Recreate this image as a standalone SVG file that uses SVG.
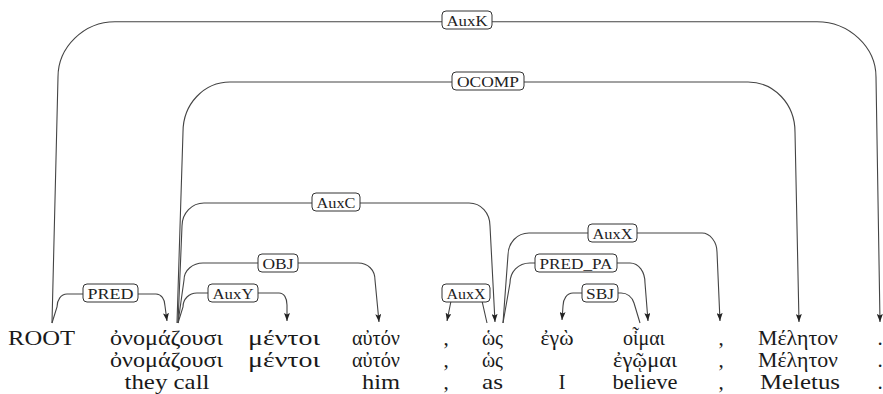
<svg xmlns="http://www.w3.org/2000/svg" width="883" height="394" viewBox="0 0 883 394">
  <defs>
    <marker id="head" viewBox="0 0 8 6" refX="8" refY="3" markerWidth="8" markerHeight="6" markerUnits="userSpaceOnUse" orient="auto">
      <path d="M0,0 L8,3 L0,6 L1.6,3 z" fill="#222"/>
    </marker>
    <style>
      .edge { fill: none; stroke: #444; stroke-width: 1.1; }
      .arr { marker-end: url(#head); }
      .lbl rect { fill: #fff; stroke: #333; stroke-width: 1; }
      .lbl text { font-family: "Liberation Serif", "DejaVu Serif", serif; font-size: 15px; fill: #222; text-anchor: middle; }
      .w { font-family: "Liberation Serif", "DejaVu Serif", serif; font-size: 21px; fill: #1a1a1a; text-anchor: middle; }
    </style>
  </defs>
  <rect width="883" height="394" fill="#fff"/>

  <!-- dependency arcs -->
  <g id="connectors">
    <!-- ROOT -> . (AuxK) -->
    <path class="edge arr" d="M52,323 L58,77 C58,47 84,21.7 115,21.7 L817,21.7 C849,21.7 876,47 876,77 L880,322"/>
    <!-- onomazousi -> Meleton (OCOMP) -->
    <path class="edge arr" d="M177,323 L183,132 C183,104 204,82 230,82 L748,82 C774,82 795,104 795,132 L799,322"/>
    <!-- onomazousi -> hos (AuxC) -->
    <path class="edge arr" d="M178,323 L182,226 C182,213 192,203 204,203 L469,203 C481,203 490,213 490,226 L495,322"/>
    <!-- onomazousi -> auton (OBJ) -->
    <path class="edge arr" d="M178,323 L184,280 C184,270 193,263 203,263 L358,263 C368,263 375,270 375,280 L379,322"/>
    <!-- onomazousi -> mentoi (AuxY) -->
    <path class="edge arr" d="M178,323 L183,307 C183,299 189,293 197,293 L279,293 C284,293 287,298 287,305 L287,321"/>
    <!-- ROOT -> onomazousi (PRED) -->
    <path class="edge arr" d="M52,323 L57,307 C57,300 61,294 67,294 L156,294 C161,294 165,299 165,306 L167,321"/>
    <!-- hos -> , (AuxX, short) -->
    <path class="edge arr" d="M487,323 L482,301 C480,296 476,293 470,293 L460,293 C455,293 452,296 451,301 L447,321"/>
    <!-- hos -> , (AuxX, long) -->
    <path class="edge arr" d="M503,323 L508,255 C508,243 517,233 529,233 L702,233 C710,233 717,242 717,252 L720,321"/>
    <!-- hos -> oimai (PRED_PA) -->
    <path class="edge arr" d="M503,323 L510,283 C510,272 518,263 530,263 L630,263 C639,263 645,272 645,283 L648,321"/>
    <!-- oimai -> ego (SBJ) -->
    <path class="edge arr" d="M640,323 L634,303 C632,297 627,293 621,293 L573,293 C567,293 563,299 563,306 L562,320"/>

    <!-- arc labels -->
    <g class="lbl"><rect x="442" y="11" width="50" height="18" rx="4"/><text x="467" y="25.5" textLength="41" lengthAdjust="spacingAndGlyphs">AuxK</text></g>
    <g class="lbl"><rect x="452" y="72" width="72" height="18" rx="4"/><text x="488" y="86.5" textLength="62" lengthAdjust="spacingAndGlyphs">OCOMP</text></g>
    <g class="lbl"><rect x="312" y="193" width="48" height="18" rx="4"/><text x="336" y="207.5" textLength="39" lengthAdjust="spacingAndGlyphs">AuxC</text></g>
    <g class="lbl"><rect x="258" y="254" width="40" height="18" rx="4"/><text x="278" y="268.5" textLength="31" lengthAdjust="spacingAndGlyphs">OBJ</text></g>
    <g class="lbl"><rect x="208" y="284" width="50" height="18" rx="4"/><text x="233" y="298.5" textLength="41" lengthAdjust="spacingAndGlyphs">AuxY</text></g>
    <g class="lbl"><rect x="83" y="284" width="55" height="18" rx="4"/><text x="110.5" y="298.5" textLength="46" lengthAdjust="spacingAndGlyphs">PRED</text></g>
    <g class="lbl"><rect x="442" y="284" width="48" height="18" rx="4"/><text x="466" y="298.5" textLength="39" lengthAdjust="spacingAndGlyphs">AuxX</text></g>
    <g class="lbl"><rect x="588" y="224" width="49" height="18" rx="4"/><text x="612.5" y="238.5" textLength="40" lengthAdjust="spacingAndGlyphs">AuxX</text></g>
    <g class="lbl"><rect x="535" y="254" width="82" height="18" rx="4"/><text x="576" y="268.5" textLength="73" lengthAdjust="spacingAndGlyphs">PRED_PA</text></g>
    <g class="lbl"><rect x="582" y="284" width="36" height="18" rx="4"/><text x="600" y="298.5" textLength="28" lengthAdjust="spacingAndGlyphs">SBJ</text></g>
  </g>

  <!-- tokens: form / lemma / gloss -->
  <g id="w0"><text class="w" x="41.5" y="345" textLength="67" lengthAdjust="spacingAndGlyphs">ROOT</text></g>
  <g id="w1">
    <text class="w" x="166.5" y="345" textLength="113" lengthAdjust="spacingAndGlyphs">ὀνομάζουσι</text>
    <text class="w" x="166.5" y="367" textLength="113" lengthAdjust="spacingAndGlyphs">ὀνομάζουσι</text>
    <text class="w" x="167" y="389" textLength="85" lengthAdjust="spacingAndGlyphs">they call</text>
  </g>
  <g id="w2">
    <text class="w" x="284" y="345" textLength="72" lengthAdjust="spacingAndGlyphs">μέντοι</text>
    <text class="w" x="284" y="367" textLength="72" lengthAdjust="spacingAndGlyphs">μέντοι</text>
  </g>
  <g id="w3">
    <text class="w" x="376" y="345" textLength="48" lengthAdjust="spacingAndGlyphs">αὐτόν</text>
    <text class="w" x="376" y="367" textLength="48" lengthAdjust="spacingAndGlyphs">αὐτόν</text>
    <text class="w" x="381" y="389" textLength="38" lengthAdjust="spacingAndGlyphs">him</text>
  </g>
  <g id="w4">
    <text class="w" x="446" y="345">,</text>
    <text class="w" x="446" y="367">,</text>
    <text class="w" x="446" y="389">,</text>
  </g>
  <g id="w5">
    <text class="w" x="492.5" y="345" textLength="21" lengthAdjust="spacingAndGlyphs">ὡς</text>
    <text class="w" x="492.5" y="367" textLength="21" lengthAdjust="spacingAndGlyphs">ὡς</text>
    <text class="w" x="492.5" y="389" textLength="21" lengthAdjust="spacingAndGlyphs">as</text>
  </g>
  <g id="w6">
    <text class="w" x="557" y="345" textLength="33" lengthAdjust="spacingAndGlyphs">ἐγὼ</text>
    <text class="w" x="562" y="389">I</text>
  </g>
  <g id="w7">
    <text class="w" x="644" y="345" textLength="42" lengthAdjust="spacingAndGlyphs">οἶμαι</text>
    <text class="w" x="645" y="367" textLength="64" lengthAdjust="spacingAndGlyphs">ἐγῷμαι</text>
    <text class="w" x="645" y="389" textLength="65" lengthAdjust="spacingAndGlyphs">believe</text>
  </g>
  <g id="w8">
    <text class="w" x="721" y="345">,</text>
    <text class="w" x="721" y="367">,</text>
    <text class="w" x="721" y="389">,</text>
  </g>
  <g id="w9">
    <text class="w" x="798" y="345" textLength="80" lengthAdjust="spacingAndGlyphs">Μέλητον</text>
    <text class="w" x="798" y="367" textLength="80" lengthAdjust="spacingAndGlyphs">Μέλητον</text>
    <text class="w" x="800" y="389" textLength="80" lengthAdjust="spacingAndGlyphs">Meletus</text>
  </g>
  <g id="w10">
    <text class="w" x="880" y="345">.</text>
    <text class="w" x="880" y="367">.</text>
    <text class="w" x="880" y="389">.</text>
  </g>
</svg>
